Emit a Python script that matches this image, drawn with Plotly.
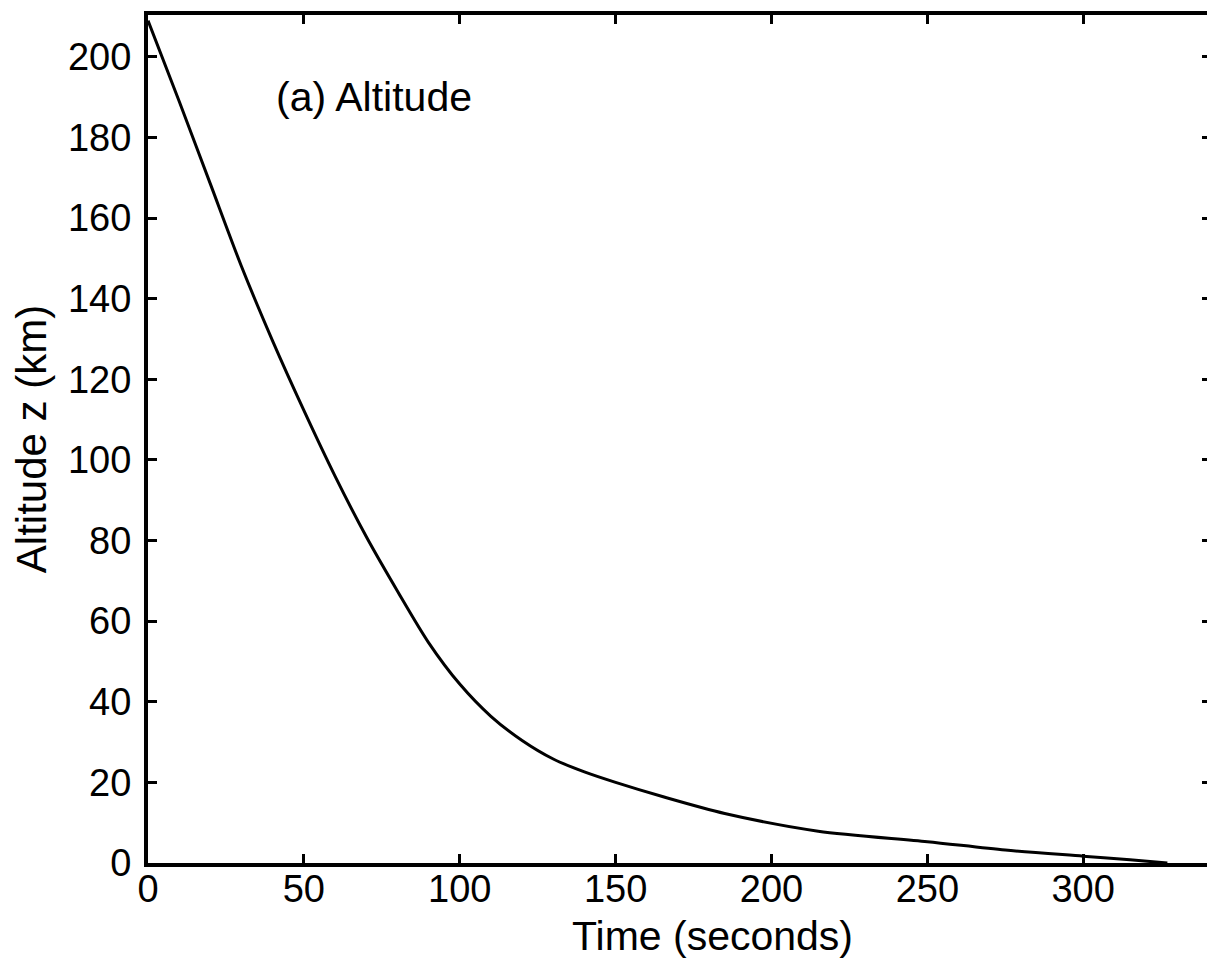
import plotly.graph_objects as go

time_s = [0, 10, 20, 30, 40, 50, 60, 70, 80, 90, 100, 110, 120, 130, 140, 150,
          165, 185, 215, 250, 275, 300, 315, 327]
altitude_km = [209, 189, 168.5, 148, 129.5, 112.3, 96, 81, 67.5, 54.7, 44.4, 36.4,
               30.4, 25.8, 22.6, 20.0, 16.5, 12.3, 7.9, 5.3, 3.2, 1.7, 0.8, 0.0]

x_ticks = [0, 50, 100, 150, 200, 250, 300]
y_ticks = [0, 20, 40, 60, 80, 100, 120, 140, 160, 180, 200]

FONT = "Liberation Sans, Arial, sans-serif"
TICK_SIZE = 38
TITLE_SIZE = 41

fig = go.Figure()
fig.add_trace(go.Scatter(x=time_s, y=altitude_km, mode="lines",
                         line=dict(color="black", width=3, shape="spline", smoothing=0.8),
                         showlegend=False))

fig.add_annotation(x=40.5, y=190, text="(a) Altitude", showarrow=False,
                   xanchor="left", yanchor="middle",
                   font=dict(family=FONT, size=41, color="black"))

# x-axis title (sits right of the plot centre in the original, cropped figure)
fig.add_annotation(xref="paper", yref="paper", x=0.5306, y=-0.086,
                   text="Time (seconds)", showarrow=False, borderpad=0,
                   xanchor="center", yanchor="middle",
                   font=dict(family=FONT, size=TITLE_SIZE, color="black"))

axis_common = dict(showgrid=False, zeroline=False, showline=True, linecolor="black",
                   linewidth=4, mirror="ticks", ticks="inside", ticklen=9,
                   tickwidth=3, tickcolor="black", automargin=False,
                   tickfont=dict(family=FONT, size=TICK_SIZE, color="black"))

fig.update_xaxes(range=[0, 341], tickvals=x_ticks, ticklabelstandoff=-11,
                 **axis_common)
fig.update_yaxes(range=[0, 210.4], tickvals=y_ticks, ticklabelstandoff=5,
                 title=dict(text="Altitude z (km)",
                            font=dict(family=FONT, size=42, color="black"),
                            standoff=11),
                 **axis_common)

fig.update_layout(width=1215, height=962, margin=dict(l=140, r=12, t=7, b=107),
                  plot_bgcolor="white", paper_bgcolor="white")

fig.write_html("out.html")
